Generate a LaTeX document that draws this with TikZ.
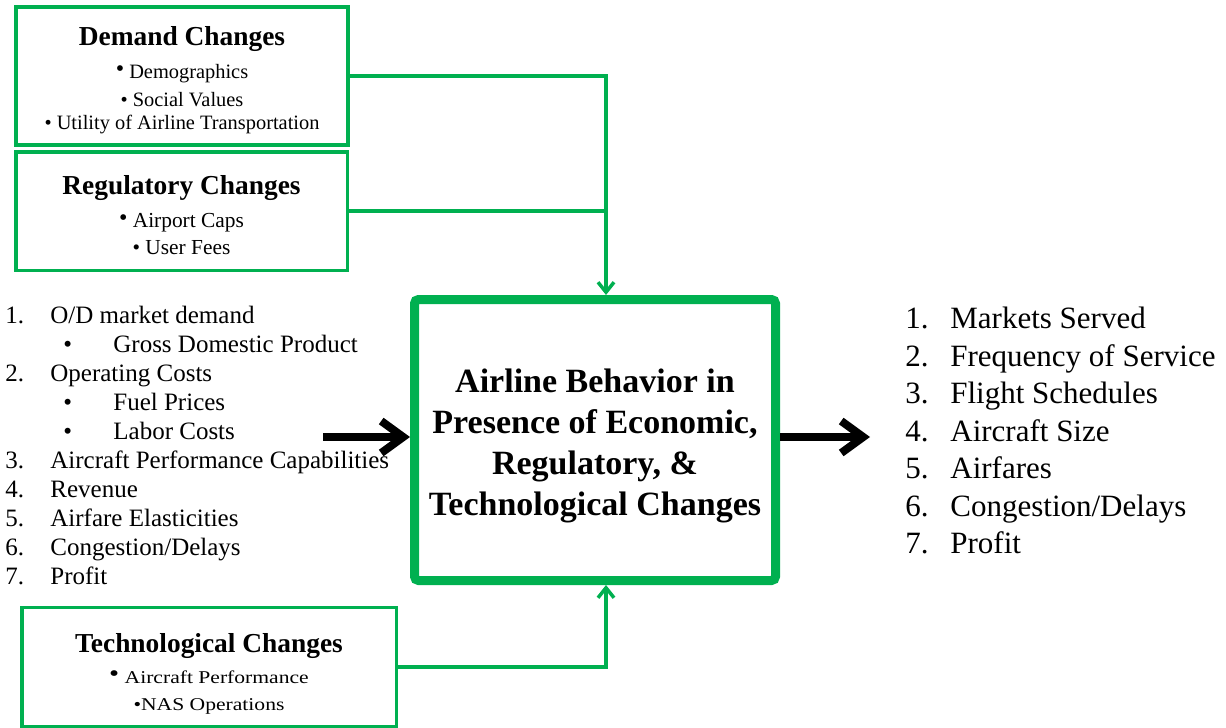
\documentclass[tikz,border=0pt]{standalone}
\usepackage{fontspec}
\setmainfont{Liberation Serif}
\newfontfamily\widefont{Liberation Serif}[FakeStretch=1.2]
\usepackage{tikz}
\usetikzlibrary{arrows.meta,positioning}
\definecolor{grn}{RGB}{0,176,80}
\tikzstyle{recNodeG} = [rectangle, draw=grn, line width=1.75pt, align=center, inner sep=0pt]
\tikzstyle{mainNode} = [rectangle, draw=grn, line width=4.5pt, rounded corners=2pt, align=center, inner sep=0pt]
\tikzstyle{listNode} = [align=left, inner sep=0pt, anchor=north west]
\tikzstyle{lineG} = [line width=1.75pt, draw=grn]
\tikzstyle{arrowG} = [lineG, -{Straight Barb[length=5pt,width=8pt]}]
\tikzstyle{arrowK} = [line width=4pt, draw=black, -{Straight Barb[length=11pt,width=16pt]}]
\newcommand{\boxtitle}[1]{{\fontsize{13.7}{15}\selectfont\bfseries #1}}

\begin{document}
\begin{tikzpicture}[x=0.5pt, y=-0.5pt]
    \useasboundingbox (0,0) rectangle (1226,728);

    \node (dem) [recNodeG, minimum width=166pt, minimum height=69pt, font=\fontsize{10.2}{11.5}\selectfont] at (182,76)
        {\rule{0pt}{14pt}\boxtitle{Demand Changes}\\[5pt]
         \raisebox{1pt}{\large •} Demographics\\[2.5pt] • Social Values\\ • Utility of Airline Transportation};
    \node (reg) [recNodeG, minimum width=165.75pt, minimum height=59.25pt, font=\fontsize{10.7}{13.5}\selectfont] at (181.5,211)
        {\rule{0pt}{14pt}\boxtitle{Regulatory Changes}\\[3pt]
         \raisebox{1pt}{\large •} Airport Caps\\ • User Fees};
    \node (tech) [recNodeG, minimum width=187.25pt, minimum height=59.4pt, font=\fontsize{9}{13.5}\selectfont] at (209,667)
        {\rule{0pt}{16pt}\boxtitle{Technological Changes}\\[2pt]
         {\widefont\raisebox{1pt}{\large •} Aircraft Performance}\\ {\widefont •NAS Operations}};

    \node (cent) [mainNode, minimum width=180.5pt, minimum height=140.5pt, font=\fontsize{17}{20.5}\selectfont\bfseries] at (595,440)
        {\rule{0pt}{18pt}Airline Behavior in\\ Presence of Economic,\\ Regulatory, \&\\ Technological Changes};

    \node (inputs) [listNode, font=\fontsize{12.5}{14.5}\selectfont] at (5,306)
        {\makebox[22.5pt][l]{1.}O/D market demand\\
         \hspace*{29pt}\makebox[25pt][l]{•}Gross Domestic Product\\
         \makebox[22.5pt][l]{2.}Operating Costs\\
         \hspace*{29pt}\makebox[25pt][l]{•}Fuel Prices\\
         \hspace*{29pt}\makebox[25pt][l]{•}Labor Costs\\
         \makebox[22.5pt][l]{3.}Aircraft Performance Capabilities\\
         \makebox[22.5pt][l]{4.}Revenue\\
         \makebox[22.5pt][l]{5.}Airfare Elasticities\\
         \makebox[22.5pt][l]{6.}Congestion/Delays\\
         \makebox[22.5pt][l]{7.}Profit};

    \node (outputs) [listNode, font=\fontsize{15.5}{18.75}\selectfont] at (905,307)
        {\makebox[22.5pt][l]{1.}Markets Served\\
         \makebox[22.5pt][l]{2.}Frequency of Service\\
         \makebox[22.5pt][l]{3.}Flight Schedules\\
         \makebox[22.5pt][l]{4.}Aircraft Size\\
         \makebox[22.5pt][l]{5.}Airfares\\
         \makebox[22.5pt][l]{6.}Congestion/Delays\\
         \makebox[22.5pt][l]{7.}Profit};

    \coordinate (tapN) at (606,295);
    \coordinate (tapS) at (606,585);
    \coordinate (inL) at (323,437);
    \coordinate (outR) at (870,437);

    \draw [arrowG] (dem.east) -| (tapN);
    \draw [lineG] (reg.east) -- (reg.east -| tapN);
    \draw [arrowG] (tech.east) -| (tapS);

    \draw [arrowK] (inL) -- (inL -| cent.west);
    \draw [arrowK] (outR -| cent.east) -- (outR);
\end{tikzpicture}
\end{document}
